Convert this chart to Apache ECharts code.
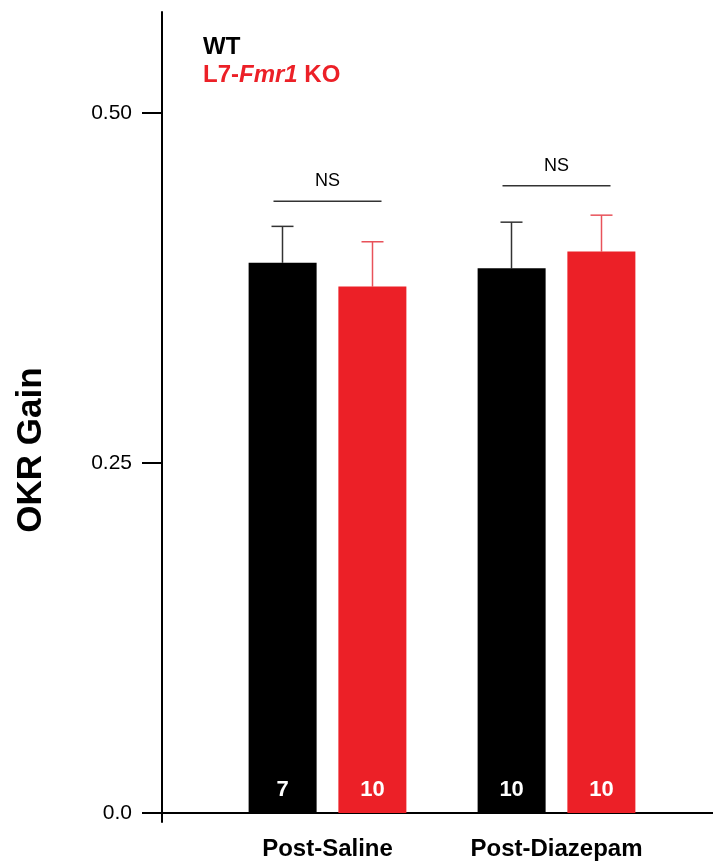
<!DOCTYPE html>
<html>
<head>
<meta charset="utf-8">
<script src="https://cdn.jsdelivr.net/npm/echarts@6/dist/echarts.min.js"></script>
<style>
  html, body { margin: 0; padding: 0; background: #fff; }
  #main { width: 713px; height: 863px; }
</style>
</head>
<body>
<div id="main"></div>
<script>
// data
var categories = ['Post-Saline', 'Post-Diazepam'];
var wtMean = [0.393, 0.389];
var wtErr = [0.026, 0.033];
var koMean = [0.376, 0.401];
var koErr = [0.032, 0.026];
var wtN = [7, 10];
var koN = [10, 10];
var nsHeight = [0.437, 0.448];
var yTicks = [0, 0.25, 0.5];

var RED = '#ec2027';
var FONT = 'Liberation Sans, Arial, sans-serif';
var yMin = -0.0064, yMax = 0.5721;
var barW = 68, barOffset = 45;

var myChart = echarts.init(document.getElementById('main'));

// error bar (upper half only) drawn through the axis scales
function errorBar(side, color) {
	return function (params, api) {
		var i = api.value(0);
		var top = api.coord([i, api.value(1) + api.value(2)]);
		var base = api.coord([i, api.value(1)]);
		var x = top[0] + side * barOffset;
		return {
			type: 'group',
			children: [
				{ type: 'line', shape: { x1: x, y1: base[1], x2: x, y2: top[1] }, style: { stroke: color, lineWidth: 1.5 } },
				{ type: 'line', shape: { x1: x - 11, y1: top[1], x2: x + 11, y2: top[1] }, style: { stroke: color, lineWidth: 1.5 } }
			]
		};
	};
}

myChart.setOption({
	animation: false,
	textStyle: { fontFamily: FONT },
	legend: {
		left: 193,
		top: 30,
		orient: 'vertical',
		itemGap: 4,
		icon: 'none',
		itemWidth: 0,
		selectedMode: false,
		data: ['WT', 'L7-Fmr1 KO'],
		formatter: function (name) {
			if (name === 'WT') return '{w|WT}';
			return '{r|L7-}{ri|Fmr1}{r| KO}';
		},
		textStyle: {
			rich: {
				w: { color: '#000', fontSize: 24, fontWeight: 'bold', fontFamily: FONT },
				r: { color: RED, fontSize: 24, fontWeight: 'bold', fontFamily: FONT },
				ri: { color: RED, fontSize: 24, fontWeight: 'bold', fontStyle: 'italic', fontFamily: FONT }
			}
		}
	},
	grid: [
		{ left: 162, right: 0, top: 12, bottom: 41 },
		{ left: 213, right: 42, top: 12, bottom: 41 }
	],
	xAxis: [
		{
			gridIndex: 0, type: 'category', data: categories,
			axisLine: { onZero: true, lineStyle: { color: '#000', width: 2 } },
			axisTick: { show: false }, axisLabel: { show: false }
		},
		{
			gridIndex: 1, type: 'category', data: categories,
			axisLine: { show: false }, axisTick: { show: false },
			axisLabel: { color: '#000', fontSize: 24, fontWeight: 'bold', margin: 15 }
		}
	],
	yAxis: [
		{
			gridIndex: 0, type: 'value', min: yMin, max: yMax,
			name: 'OKR Gain', nameLocation: 'middle', nameGap: 113,
			nameTextStyle: { color: '#000', fontSize: 35, fontWeight: 'bold', padding: [0, 66, 0, 0] },
			splitLine: { show: false },
			axisLine: { show: true, lineStyle: { color: '#000', width: 2 } },
			axisTick: { show: true, customValues: yTicks, length: 20, lineStyle: { color: '#000', width: 2 } },
			axisLabel: {
				customValues: yTicks, color: '#000', fontSize: 21, margin: 30,
				formatter: function (v) { return v === 0 ? '0.0' : v.toFixed(2); }
			}
		},
		{
			gridIndex: 1, type: 'value', min: yMin, max: yMax, show: false, splitLine: { show: false }
		}
	],
	series: [
		{
			name: 'WT', type: 'bar', xAxisIndex: 1, yAxisIndex: 1,
			data: wtMean, barWidth: barW, barGap: '32%',
			itemStyle: { color: '#000' },
			label: {
				show: true, position: 'insideBottom', distance: 12,
				color: '#fff', fontSize: 22, fontWeight: 'bold',
				formatter: function (p) { return wtN[p.dataIndex]; }
			}
		},
		{
			name: 'L7-Fmr1 KO', type: 'bar', xAxisIndex: 1, yAxisIndex: 1,
			data: koMean, barWidth: barW,
			itemStyle: { color: RED },
			label: {
				show: true, position: 'insideBottom', distance: 12,
				color: '#fff', fontSize: 22, fontWeight: 'bold',
				formatter: function (p) { return koN[p.dataIndex]; }
			}
		},
		{
			type: 'custom', xAxisIndex: 1, yAxisIndex: 1, z: 1,
			data: wtMean.map(function (v, i) { return [i, v, wtErr[i]]; }),
			renderItem: errorBar(-1, '#333')
		},
		{
			type: 'custom', xAxisIndex: 1, yAxisIndex: 1, z: 1,
			data: koMean.map(function (v, i) { return [i, v, koErr[i]]; }),
			renderItem: errorBar(1, '#e8525a')
		},
		{
			// NS brackets
			type: 'custom', xAxisIndex: 1, yAxisIndex: 1,
			data: nsHeight.map(function (v, i) { return [i, v]; }),
			renderItem: function (params, api) {
				var p = api.coord([api.value(0), api.value(1)]);
				return {
					type: 'group',
					children: [
						{ type: 'line', shape: { x1: p[0] - 54, y1: p[1], x2: p[0] + 54, y2: p[1] }, style: { stroke: '#333', lineWidth: 1.5 } },
						{ type: 'text', style: { x: p[0], y: p[1] - 20, text: 'NS', fill: '#000', font: '18px ' + FONT, align: 'center', verticalAlign: 'middle' } }
					]
				};
			}
		}
	]
});
</script>
</body>
</html>
